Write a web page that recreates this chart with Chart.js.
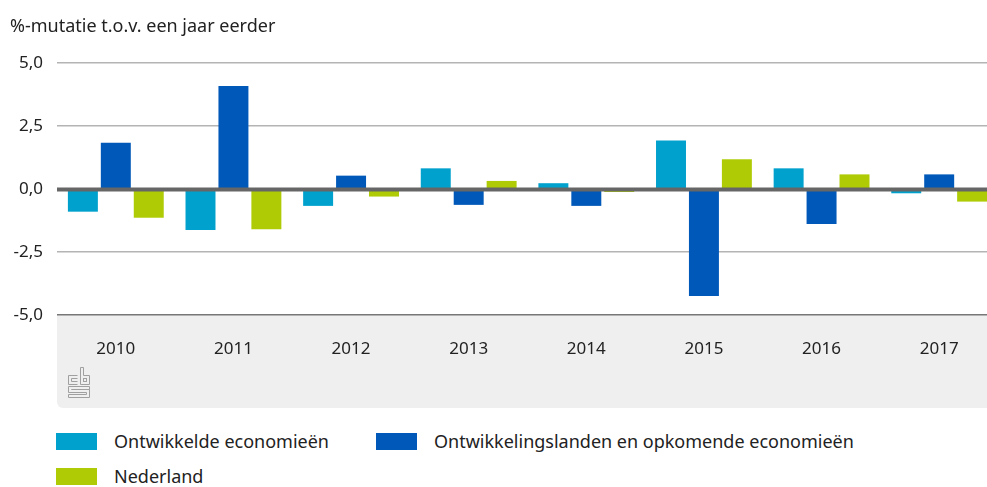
<!DOCTYPE html>
<html>
<head>
<meta charset="utf-8">
<script src="https://cdn.jsdelivr.net/npm/chart.js@4"></script>
<style>
  body { margin: 0; background: #fff; font-family: "Noto Sans", sans-serif; color: #222; }
  #wrap { position: relative; width: 987px; height: 487px; overflow: hidden; }
  #title { position: absolute; left: 10px; top: 13px; font-size: 18px; }
  #box { position: absolute; left: 0; top: 0; width: 998px; height: 410px; }
  .item { position: absolute; font-size: 18px; line-height: 18px; }
  .sw { position: absolute; width: 41px; height: 17px; }
</style>
</head>
<body>
<div id="wrap">
  <div id="box"><canvas id="chart"></canvas></div>
  <div id="title">%-mutatie t.o.v. een jaar eerder</div>
  <div id="legend"></div>
</div>
<script>
const years = ['2010', '2011', '2012', '2013', '2014', '2015', '2016', '2017'];
const seriesNames = ['Ontwikkelde economieën', 'Ontwikkelingslanden en opkomende economieën', 'Nederland'];
const seriesColors = ['#00a1cd', '#0058b8', '#afcb05'];
const ontwikkeld = [-0.9, -1.63, -0.67, 0.82, 0.23, 1.92, 0.82, -0.17];
const opkomend = [1.84, 4.09, 0.53, -0.63, -0.67, -4.25, -1.39, 0.58];
const nederland = [-1.14, -1.6, -0.3, 0.32, -0.12, 1.18, 0.58, -0.5];
const yTicks = [-5, -2.5, 0, 2.5, 5];

// grey band under the x axis with the cbs logo, plus the thick zero line on top of the bars
const bandPlugin = {
    id: 'band',
    beforeDraw(chart) {
        const c = chart.ctx, a = chart.chartArea;
        c.save();
        c.fillStyle = '#efefef';
        c.beginPath();
        c.roundRect(a.left, a.bottom, a.right - a.left + 10, 93, [0, 0, 0, 6]);
        c.fill();
        c.strokeStyle = '#a0a0a0';
        c.lineWidth = 1;
        const x = a.left + 10.5, y = a.bottom + 52.5;
        const path = pts => {
            c.beginPath();
            pts.forEach((p, i) => i ? c.lineTo(x + p[0], y + p[1]) : c.moveTo(x + p[0], y + p[1]));
        };
        // c
        path([[10, 8], [1, 8], [1, 17], [10, 17]]); c.stroke();
        path([[10, 11], [4, 11], [4, 14], [10, 14]]); c.stroke();
        // b
        path([[13, 0], [13, 17], [22, 17], [22, 8], [16, 8], [16, 0]]); c.closePath(); c.stroke();
        c.strokeRect(x + 16, y + 11, 3, 3);
        // s
        path([[22, 19], [1, 19], [1, 25], [19, 25], [19, 27], [1, 27], [1, 30], [22, 30], [22, 22], [4, 22], [4, 22], [22, 22]]);
        c.stroke();
        path([[22, 19], [22, 22]]); c.stroke();
        c.restore();
    },
    afterDatasetsDraw(chart) {
        const c = chart.ctx, a = chart.chartArea;
        const y0 = chart.scales.y.getPixelForValue(0);
        c.save();
        c.fillStyle = '#666';
        c.fillRect(a.left, y0 - 1.5, a.right - a.left, 4);
        c.restore();
    }
};

new Chart(document.getElementById('chart'), {
    type: 'bar',
    data: {
        labels: years,
        datasets: [
            { label: seriesNames[0], data: ontwikkeld, backgroundColor: seriesColors[0] },
            { label: seriesNames[1], data: opkomend, backgroundColor: seriesColors[1] },
            { label: seriesNames[2], data: nederland, backgroundColor: seriesColors[2] }
        ]
    },
    options: {
        responsive: true,
        maintainAspectRatio: false,
        animation: false,
        layout: { padding: { top: 63, right: 0, left: 0, bottom: 0 } },
        datasets: { bar: { categoryPercentage: 0.84, barPercentage: 0.91 } },
        plugins: { legend: { display: false }, tooltip: { enabled: false } },
        scales: {
            x: {
                grid: { display: false, drawTicks: false },
                border: { display: false },
                ticks: { color: '#222', font: { family: 'Noto Sans', size: 17 }, padding: 24 },
                afterFit: s => { s.height = 95; }
            },
            y: {
                min: -5, max: 5,
                afterBuildTicks: s => { s.ticks = yTicks.map(v => ({ value: v })); },
                afterFit: s => { s.width = 57; },
                border: { display: false },
                grid: {
                    drawTicks: false,
                    color: ctx => ctx.tick.value === -5 ? '#777' : '#b4b4b4',
                    lineWidth: 1.5
                },
                ticks: {
                    color: '#222',
                    padding: 14,
                    font: { family: 'Noto Sans', size: 17 },
                    callback: v => v.toFixed(1).replace('.', ',')
                }
            }
        }
    },
    plugins: [bandPlugin]
});

const legend = document.getElementById('legend');
const legendPos = [[56, 433], [376, 433], [56, 468]];
seriesNames.forEach((name, i) => {
    const sw = document.createElement('div');
    sw.className = 'sw';
    sw.style.left = legendPos[i][0] + 'px';
    sw.style.top = legendPos[i][1] + 'px';
    sw.style.background = seriesColors[i];
    legend.appendChild(sw);
    const t = document.createElement('div');
    t.className = 'item';
    t.style.left = (legendPos[i][0] + 58) + 'px';
    t.style.top = (legendPos[i][1] - 1) + 'px';
    t.textContent = name;
    legend.appendChild(t);
});
</script>
</body>
</html>
